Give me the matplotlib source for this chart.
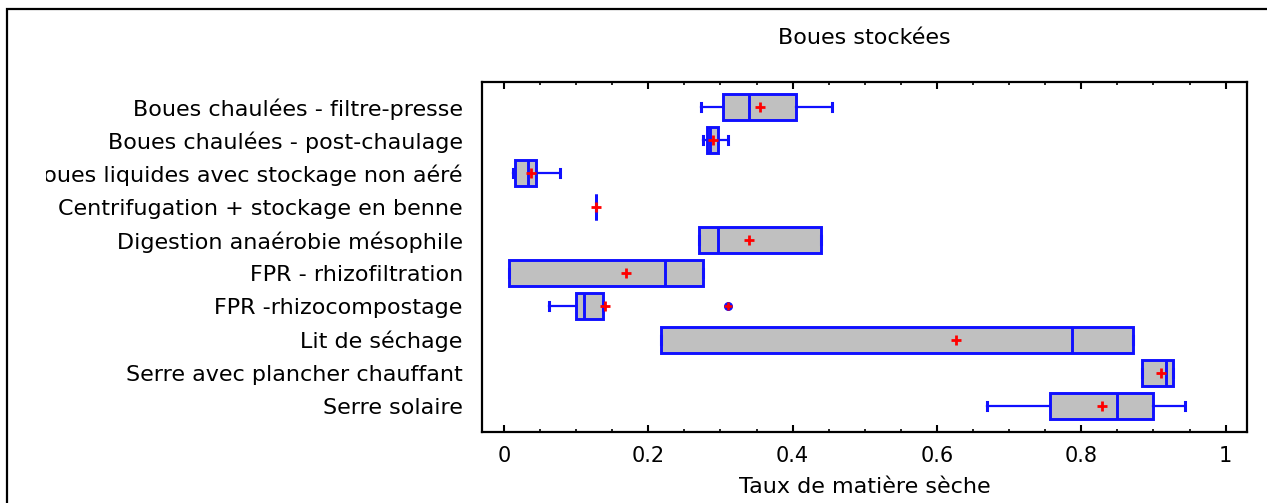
import matplotlib
matplotlib.use("Agg")
import matplotlib.pyplot as plt
from matplotlib.patches import Rectangle
from matplotlib.transforms import Bbox, TransformedBbox
import numpy as np

categories = [
    "Boues chaulées - filtre-presse",
    "Boues chaulées - post-chaulage",
    "Boues liquides avec stockage non aéré",
    "Centrifugation + stockage en benne",
    "Digestion anaérobie mésophile",
    "FPR - rhizofiltration",
    "FPR -rhizocompostage",
    "Lit de séchage",
    "Serre avec plancher chauffant",
    "Serre solaire",
]
whisker_low = [0.273, 0.276, 0.013, 0.127, 0.270, 0.007, 0.063, 0.217, 0.884, 0.670]
q1 =          [0.303, 0.281, 0.016, 0.127, 0.270, 0.007, 0.100, 0.217, 0.884, 0.757]
median =      [0.340, 0.285, 0.034, 0.127, 0.297, 0.223, 0.111, 0.787, 0.917, 0.850]
q3 =          [0.404, 0.297, 0.044, 0.127, 0.440, 0.276, 0.137, 0.871, 0.927, 0.900]
whisker_high =[0.454, 0.311, 0.077, 0.127, 0.440, 0.276, 0.137, 0.871, 0.927, 0.944]
mean =        [0.355, 0.290, 0.037, 0.128, 0.339, 0.169, 0.140, 0.627, 0.911, 0.828]
outliers =    [[], [], [], [], [], [], [0.310], [], [], []]

title = "Boues stockées"
xlabel = "Taux de matière sèche"
xticks = [0, 0.2, 0.4, 0.6, 0.8, 1]
xticklabels = ["0", "0.2", "0.4", "0.6", "0.8", "1"]

plt.rcParams['font.family'] = ['DejaVu Sans']
FS = 16

W, H = 1267, 503
fig = plt.figure(figsize=(W / 100, H / 100), dpi=100)
ax = fig.add_axes([482.3 / W, 1 - 432 / H, (1247.3 - 482.3) / W, (432 - 81.7) / H])

stats = []
for i in range(len(categories)):
    stats.append(dict(label=categories[i], whislo=whisker_low[i], q1=q1[i], med=median[i],
                      q3=q3[i], whishi=whisker_high[i], mean=mean[i], fliers=outliers[i]))

blue = "#1010ff"
pos = np.arange(len(categories))
ax.bxp(stats, positions=pos, vert=False, widths=0.78, patch_artist=True,
       showmeans=True, showfliers=True, capwidths=0.24,
       boxprops=dict(facecolor="#c0c0c0", edgecolor=blue, linewidth=2.1),
       medianprops=dict(color=blue, linewidth=2.1),
       whiskerprops=dict(color=blue, linewidth=1.6),
       capprops=dict(color=blue, linewidth=2.2),
       meanprops=dict(marker="+", markeredgecolor="red", markersize=6.5, markeredgewidth=2),
       flierprops=dict(marker="o", markerfacecolor=blue, markeredgecolor=blue, markersize=5.5))
for i, outs in enumerate(outliers):
    if outs:
        ax.plot(outs, [pos[i]] * len(outs), linestyle="none", marker="+",
                markeredgecolor="red", markersize=6, markeredgewidth=1.8, zorder=5)

ax.set_xlim(-0.03, 1.03)
ax.set_ylim(9.78, -0.76)
ax.set_yticks(pos)
ax.set_yticklabels(categories, fontsize=FS)
ax.set_xticks(xticks)
ax.set_xticklabels(xticklabels, fontsize=15)
ax.set_xticks(np.arange(0, 1.0001, 0.05), minor=True)
ax.tick_params(axis="x", which="major", direction="in", length=5, width=1.5,
               top=True, bottom=True, pad=10)
ax.tick_params(axis="x", which="minor", direction="in", length=2, width=1.2,
               top=True, bottom=True)
ax.tick_params(axis="y", which="both", length=0, pad=14)
for s in ax.spines.values():
    s.set_linewidth(1.6)

ax.set_title(title, fontsize=FS, pad=27)
ax.set_xlabel(xlabel, fontsize=FS, labelpad=8)

clip = TransformedBbox(Bbox([[46 / W, 0], [1, 1]]), fig.transFigure)
for lab in ax.get_yticklabels():
    lab.set_clip_box(clip)
    lab.set_clip_on(True)

fig.patches.append(Rectangle((7 / W, -0.05), 1.05, 1 - 9 / H + 0.05,
                             transform=fig.transFigure, fill=False,
                             edgecolor="black", linewidth=1.6, zorder=10))

fig.savefig("out.png", dpi=100)
